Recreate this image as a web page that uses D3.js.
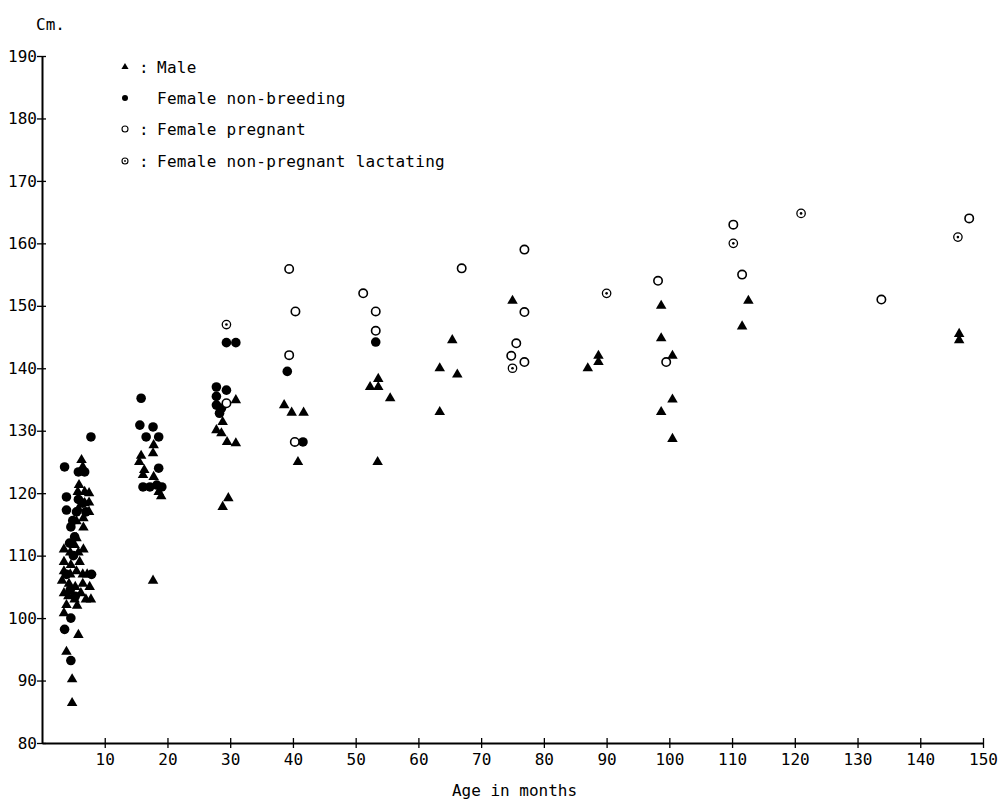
<!DOCTYPE html>
<html><head><meta charset="utf-8">
<script src="https://cdn.jsdelivr.net/npm/d3@7"></script>
<style>
html,body{margin:0;padding:0;background:#fff;}
svg text{font-family:"DejaVu Sans Mono",monospace;fill:#000;}
</style></head>
<body>
<svg id="c" width="998" height="800"></svg>
<script>
// ---- data ----
const xTicks = [10,20,30,40,50,60,70,80,90,100,110,120,130,140,150];
const yTicks = [80,90,100,110,120,130,140,150,160,170,180,190];
const legendLabels = ["Male","Female non-breeding","Female pregnant","Female non-pregnant lactating"];
const legendSeps = [":","",":",":"];

const male = [
 [6.3,125.3],[6.5,124.2],[5.9,121.3],[5.7,120.2],[6.8,120.2],[7.5,120],[7.5,118.5],[6.8,118.4],[5.8,117.5],[7.5,117],
 [6.6,116],[5.5,115.5],[6.6,114.5],[5.5,112.8],[5.2,111.7],[3.5,111],[4.5,110.5],[5.8,110.5],[6.6,111],[3.5,109],
 [4.6,108.5],[6.0,109],[3.5,107.5],[4.5,107],[5.5,107.5],[6.5,107],[7.2,107],[3.2,106],[4.3,105.5],[5.3,105],
 [6.5,105.5],[7.6,105],[3.5,104],[4.2,103.5],[5.2,103],[6.2,104],[7.0,103],[7.8,103],[3.9,102.1],[5.6,102],
 [3.5,100.8],[5.8,97.3],[3.9,94.6],[4.8,90.2],[4.8,86.4],
 [17.8,127.7],[15.8,126],[17.7,126.4],[15.5,125],[16.3,123.7],[16.1,122.9],[17.8,122.6],[18.6,120.2],[19.0,119.5],[17.7,106],
 [30.9,134.9],[28.8,131.4],[27.8,130.1],[28.6,129.6],[29.5,128.2],[30.9,128],[28.8,117.8],[29.7,119.2],
 [38.6,134.1],[39.8,132.9],[41.7,132.9],[40.8,125],
 [53.6,138.3],[52.3,137],[53.6,137],[55.5,135.2],[53.5,125],
 [63.4,133],[63.4,140],[65.4,144.5],[66.2,139],
 [75,150.8],
 [87,140],[88.7,142],[88.7,141],
 [98.7,150],[98.7,144.8],[98.7,133],[100.5,142],[100.5,135],[100.5,128.7],
 [112.6,150.8],[111.6,146.7],
 [146.2,145.5],[146.2,144.5]
];
const femaleNonBreeding = [
 [3.6,124.2],[5.8,123.4],[6.8,123.4],[3.9,119.4],[5.8,119],[6.5,118.4],[3.9,117.3],[5.5,117],[7.0,117],[4.9,115.6],
 [4.6,114.6],[5.2,113],[4.4,112],[5.0,110],[3.9,107],[7.9,107],[4.5,104.5],[5.3,103.5],[4.6,100],[3.6,98.2],
 [4.6,93.2],[7.8,129],
 [15.8,135.2],[15.6,130.9],[17.7,130.6],[16.6,129],[18.6,129],[18.6,124],[16.1,121],[17.2,121],[18.3,121.3],[19.1,121],
 [29.4,144.1],[30.9,144.1],[27.8,137],[29.4,136.5],[27.8,135.5],[27.8,134.1],[28.6,133.6],[28.3,132.8],
 [39.1,139.5],[41.6,128.2],
 [53.2,144.2]
];
const femalePregnant = [
 [29.4,134.4],
 [39.4,155.9],[40.4,149.1],[39.4,142.1],[40.3,128.2],
 [51.2,152],[53.2,149.1],[53.2,146],
 [66.9,156],
 [76.9,159],[76.9,149],[75.6,144],[74.8,142],[76.9,141],
 [98.2,154],[99.5,141],
 [110.2,163],[111.6,155],
 [133.8,151],
 [147.8,164]
];
const femaleLactating = [
 [29.4,147],[75,140],[90,152],[110.2,160],[121,164.8],[146,161]
];

// ---- chart ----
const svg = d3.select("#c");
const x = d3.scaleLinear().domain([0,150]).range([42,983]);
const y = d3.scaleLinear().domain([80,190]).range([743,56]);

const axisG = svg.append("g");
// x axis
const xa = axisG.append("g").attr("transform",`translate(0,${y(80)})`)
  .call(d3.axisBottom(x).tickValues(xTicks).tickSize(5).tickSizeOuter(0).tickFormat(d3.format("d")));
xa.select(".domain").attr("stroke","#000").attr("stroke-width",2);
xa.selectAll(".tick line").attr("y1",-5).attr("y2",5).attr("stroke-width",1.3);
xa.selectAll(".tick text").attr("y",11).attr("font-size",16).attr("font-family","DejaVu Sans Mono");
// y axis
const ya = axisG.append("g").attr("transform",`translate(${x(0)},0)`)
  .call(d3.axisLeft(y).tickValues(yTicks).tickSize(5).tickSizeOuter(0).tickFormat(d3.format("d")));
ya.select(".domain").attr("stroke","#000").attr("stroke-width",2);
ya.selectAll(".tick line").attr("x1",-5).attr("x2",4).attr("stroke-width",1.3);
ya.selectAll(".tick text").attr("x",-5).attr("font-size",16).attr("font-family","DejaVu Sans Mono");
axisG.selectAll("text").attr("fill","#000");

svg.append("text").attr("x",36).attr("y",30).attr("font-size",16).text("Cm.");
svg.append("text").attr("x",(x(0)+x(150))/2+2).attr("y",796).attr("text-anchor","middle").attr("font-size",16).text("Age in months");

// marker drawing
const tri = d3.symbol().type(d3.symbolTriangle);
function drawTri(g, data, size){
  g.selectAll(null).data(data).enter().append("path")
   .attr("d", tri.size(size)())
   .attr("transform", d=>`translate(${x(d[0])},${y(d[1])})`)
   .attr("fill","#000");
}
const pts = svg.append("g");
drawTri(pts, male, 48);
pts.selectAll(null).data(femaleNonBreeding).enter().append("circle")
  .attr("cx",d=>x(d[0])).attr("cy",d=>y(d[1])).attr("r",4.8).attr("fill","#000");
pts.selectAll(null).data(femalePregnant).enter().append("circle")
  .attr("cx",d=>x(d[0])).attr("cy",d=>y(d[1])).attr("r",4.2).attr("fill","#fff").attr("stroke","#000").attr("stroke-width",1.6);
const lg = pts.selectAll(null).data(femaleLactating).enter().append("g")
  .attr("transform", d=>`translate(${x(d[0])},${y(d[1])})`);
lg.append("circle").attr("r",4.2).attr("fill","#fff").attr("stroke","#000").attr("stroke-width",1.3);
lg.append("circle").attr("r",1.3).attr("fill","#000");

// legend
const legY = [71,102,133,165];
const leg = svg.append("g");
legendLabels.forEach((lab,i)=>{
  const cy = legY[i];
  const mx = 125;
  if(i===0){ leg.append("path").attr("d",d3.symbol().type(d3.symbolTriangle).size(22)()).attr("transform",`translate(${mx},${cy-4})`); }
  if(i===1){ leg.append("circle").attr("cx",mx).attr("cy",cy-4).attr("r",3).attr("fill","#000"); }
  if(i===2){ leg.append("circle").attr("cx",mx).attr("cy",cy-4).attr("r",3).attr("fill","#fff").attr("stroke","#000").attr("stroke-width",1.1); }
  if(i===3){ leg.append("circle").attr("cx",mx).attr("cy",cy-4).attr("r",3).attr("fill","#fff").attr("stroke","#000").attr("stroke-width",1.1);
             leg.append("circle").attr("cx",mx).attr("cy",cy-4).attr("r",0.9).attr("fill","#000"); }
  if(legendSeps[i]) leg.append("text").attr("x",139).attr("y",cy+2).attr("font-size",16).text(legendSeps[i]);
  leg.append("text").attr("x",157).attr("y",cy+2).attr("font-size",16).attr("letter-spacing",0.3).text(lab);
});
</script>
</body></html>
